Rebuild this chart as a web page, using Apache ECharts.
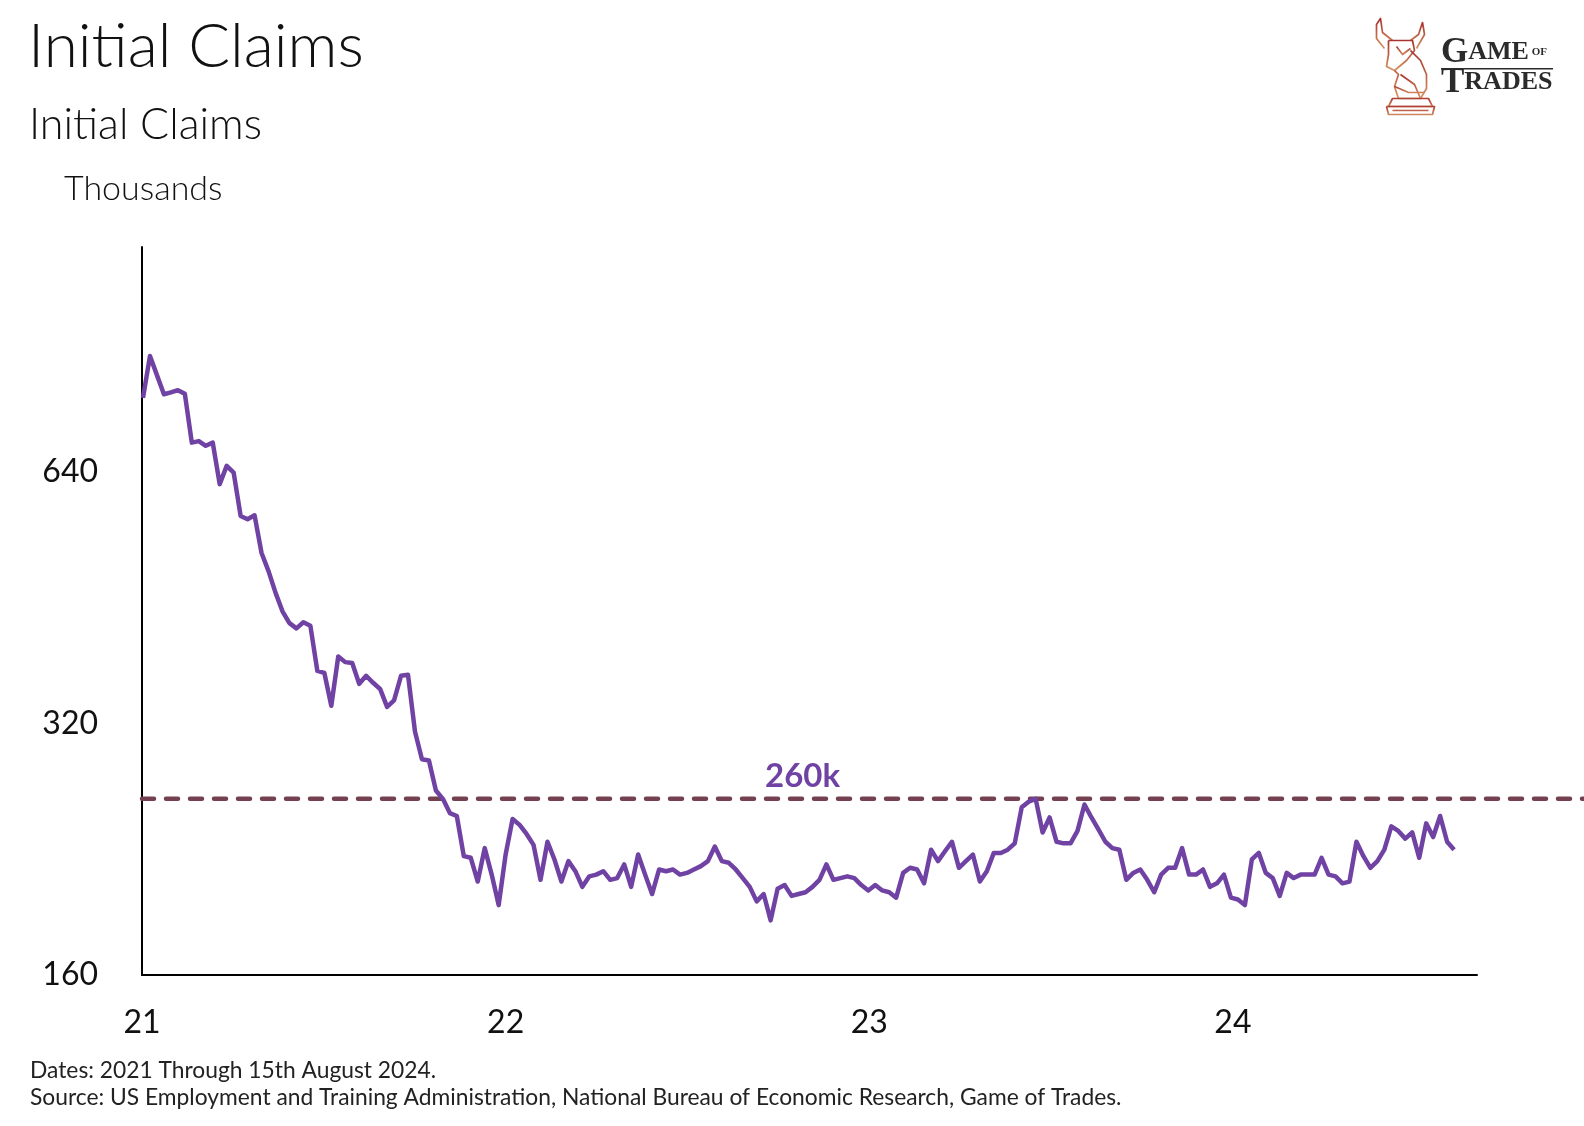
<!DOCTYPE html>
<html><head><meta charset="utf-8">
<script src="https://cdn.jsdelivr.net/npm/echarts@6/dist/echarts.min.js"></script>
<style>html,body{margin:0;padding:0;background:#fff}#c{width:1584px;height:1126px}</style>
</head><body><div id="c"></div>
<script>
// Weekly initial claims (thousands), week ending Saturday, starting 2021-01-02
const startWeek = '2021-01-02';
const claims2021 = [785,881,836,793,797,802,794,694,697,688,694,619,651,639,567,562,568,512,487,459,436,422,416,423,419,370,368,336,385,379,378,357,365,358,352,335,341,365,366,313,290,289,266,260,250,248,222,221,207,227,211,194];
const claims2022 = [223,246,242,236,229,208,231,220,207,219,213,204,210,211,213,208,209,217,204,223,211,200,214,213,214,211,212,214,216,219,228,219,218,214,209,204,196,200,186,203,205,199,200,201,204,208,217,208,209,210,209,205,202];
const claims2023 = [205,202,201,198,212,215,214,206,226,219,225,231,215,219,223,207,213,224,224,226,230,254,258,260,237,247,231,230,230,238,256,247,239,231,227,226,208,212,214,208,201,211,215,215,227,211,211,214,204,206,211,198];
const claims2024 = [197,194,220,224,212,209,199,212,209,211,211,211,221,211,210,206,207,231,222,215,219,226,241,238,233,237,221,243,234,248,231,226];
const yTickValues = [160, 320, 640];
const yearTicks = ['2021-01-01', '2022-01-01', '2023-01-01', '2024-01-01'];
const axisStart = '2021-01-01';
const axisEnd = '2024-09-02';
const yMin = 160, yMax = 1190;
const threshold = 260;
const thresholdLabel = '260k';
const thresholdLabelDate = '2022-10-26';

function ts(s){ const p = s.split('-').map(Number); return new Date(p[0], p[1]-1, p[2]).getTime(); }
const allClaims = claims2021.concat(claims2022, claims2023, claims2024);
const sp = startWeek.split('-').map(Number);
const lineData = allClaims.map((v, i) => [new Date(sp[0], sp[1]-1, sp[2] + 7*i).getTime(), v]);

const FONT = 'Lato';
const PURPLE = '#6f42a3';
const DASH = '#74404f';

const chart = echarts.init(document.getElementById('c'), null, {renderer: 'canvas'});
const grad = new echarts.graphic.LinearGradient(0, 0, 0, 1, [{offset:0, color:'#a52a2a'},{offset:1, color:'#d99a66'}]);
const iconStyle = {stroke: grad, lineWidth: 1.7, fill: null, lineJoin: 'round'};

chart.setOption({
  backgroundColor: '#ffffff',
  animation: false,
  title: [
    {text: 'Initial Claims', left: 28, top: 16, padding: 0, textStyle: {fontFamily: FONT, fontSize: 62, fontWeight: 300, color: '#111'}},
    {text: 'Initial Claims', left: 29, top: 104, padding: 0, textStyle: {fontFamily: FONT, fontSize: 43, fontWeight: 300, color: '#111'}},
    {text: 'Thousands', left: 64, top: 172, padding: 0, textStyle: {fontFamily: FONT, fontSize: 34, fontWeight: 300, color: '#111'}},
    {text: 'Dates: 2021 Through 15th August 2024.', left: 30, top: 1059, padding: 0, textStyle: {fontFamily: FONT, fontSize: 22.8, fontWeight: 'normal', color: '#222'}},
    {text: 'Source: US Employment and Training Administration, National Bureau of Economic Research, Game of Trades.', left: 30, top: 1086, padding: 0, textStyle: {fontFamily: FONT, fontSize: 22.8, fontWeight: 'normal', color: '#222'}}
  ],
  grid: [
    {left: 142, right: 107, top: 247, bottom: 151, containLabel: false},
    {left: 142, right: 0, top: 247, bottom: 151, containLabel: false}
  ],
  xAxis: [
    {type: 'value', gridIndex: 0, min: ts(axisStart), max: ts(axisEnd),
     axisLine: {show: true, lineStyle: {color: '#000', width: 2}},
     axisTick: {show: false}, splitLine: {show: false},
     axisLabel: {customValues: yearTicks.map(ts), margin: 32, fontFamily: FONT, fontSize: 32, color: '#111',
       formatter: function(v){ return String(new Date(v).getFullYear()).slice(2); }}},
    {type: 'value', gridIndex: 1, min: 0, max: 1, show: false}
  ],
  yAxis: [
    {type: 'log', logBase: 2, gridIndex: 0, min: yMin, max: yMax,
     axisLine: {show: true, lineStyle: {color: '#000', width: 2}},
     axisTick: {show: false}, splitLine: {show: false},
     axisLabel: {customValues: yTickValues, margin: 44, fontFamily: FONT, fontSize: 32, color: '#111'}},
    {type: 'log', logBase: 2, gridIndex: 1, min: yMin, max: yMax, show: false}
  ],
  series: [
    {type: 'line', xAxisIndex: 1, yAxisIndex: 1, data: [[0, threshold], [1, threshold]],
     symbol: 'none', silent: true,
     lineStyle: {color: DASH, width: 4.5, type: [12, 12], cap: 'round'}},
    {type: 'line', xAxisIndex: 0, yAxisIndex: 0, data: lineData, symbol: 'none', smooth: false,
     lineStyle: {color: PURPLE, width: 4.5, join: 'round'},
     markPoint: {symbol: 'circle', symbolSize: 0, silent: true,
       data: [{coord: [ts(thresholdLabelDate), threshold],
         label: {show: true, position: 'top', distance: 6, formatter: thresholdLabel,
           fontFamily: FONT, fontSize: 33, fontWeight: 'bold', color: PURPLE}}]}}
  ],
  graphic: [
    {type: 'group', left: 1374, top: 16, children: [
      {type: 'polyline', shape: {points: [[14,30],[6,20],[6,6],[10,0],[12,14],[22,22]]}, style: iconStyle},
      {type: 'polyline', shape: {points: [[40,22],[48,16],[52,4],[54,16],[46,30]]}, style: iconStyle},
      {type: 'polyline', shape: {points: [[18,22],[42,22],[44,32],[36,42],[24,52],[16,48],[18,36],[18,22]]}, style: iconStyle},
      {type: 'polyline', shape: {points: [[26,28],[32,36],[40,30]]}, style: iconStyle},
      {type: 'polyline', shape: {points: [[40,32],[50,42],[56,56],[56,70],[50,80],[28,80],[24,68],[28,56],[24,52]]}, style: iconStyle},
      {type: 'polyline', shape: {points: [[30,56],[44,66],[50,80]]}, style: iconStyle},
      {type: 'polyline', shape: {points: [[24,68],[38,74],[54,74]]}, style: iconStyle},
      {type: 'polyline', shape: {points: [[22,80],[58,80],[62,88],[18,88],[22,80]]}, style: iconStyle},
      {type: 'polyline', shape: {points: [[16,88],[64,88],[62,96],[18,96],[16,88]]}, style: iconStyle},
      {type: 'polyline', shape: {points: [[22,92],[58,92]]}, style: iconStyle}
    ]},
    {type: 'text', left: 1441, top: 35, style: {text: '{a|G}{b|AME}{c| OF}', rich: {
      a: {fontFamily: 'Liberation Serif', fontSize: 35, fontWeight: 'bold', fill: '#2b2b2b'},
      b: {fontFamily: 'Liberation Serif', fontSize: 26, fontWeight: 'bold', fill: '#2b2b2b'},
      c: {fontFamily: 'Liberation Serif', fontSize: 11, fontWeight: 'bold', fill: '#2b2b2b'}}}},
    {type: 'rect', left: 1441, top: 68, shape: {width: 112, height: 1.5}, style: {fill: '#2b2b2b'}},
    {type: 'text', left: 1441, top: 65, style: {text: '{a|T}{b|RADES}', rich: {
      a: {fontFamily: 'Liberation Serif', fontSize: 35, fontWeight: 'bold', fill: '#2b2b2b'},
      b: {fontFamily: 'Liberation Serif', fontSize: 26, fontWeight: 'bold', fill: '#2b2b2b'}}}}
  ]
});
</script></body></html>
